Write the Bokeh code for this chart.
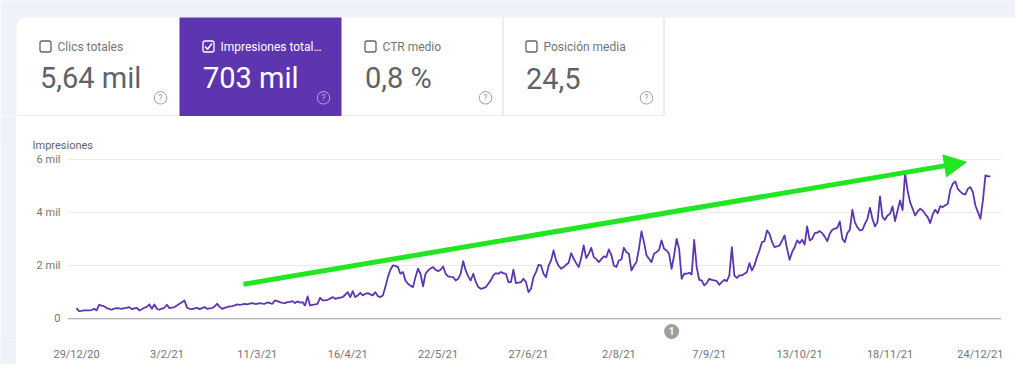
import numpy as np
import pandas as pd
from bokeh.plotting import figure
from bokeh.layouts import column, row
from bokeh.models import Range1d, FixedTicker, Span, Arrow, NormalHead
from bokeh.core.properties import value
from bokeh.embed import file_html
from bokeh.resources import INLINE

# ---------------- data ----------------
card_titles = ["Clics totales", "Impresiones total…", "CTR medio", "Posición media"]
card_values = ["5,64 mil", "703 mil", "0,8 %", "24,5"]
card_selected = [False, True, False, False]

start_date = "2020-12-29"
# daily impressions, 29/12/20 .. 28/12/21
impressions = [
    400, 290, 300, 315, 315, 320, 330, 377, 315, 528, 500, 470, 403, 370,
    340, 380, 403, 390, 377, 400, 410, 440, 365, 390, 415, 315, 360, 415,
    450, 540, 377, 540, 377, 340, 380, 415, 528, 403, 420, 440, 500, 566,
    620, 692, 420, 377, 365, 390, 415, 365, 400, 440, 377, 390, 403, 465,
    566, 450, 377, 410, 440, 465, 480, 503, 540, 528, 540, 566, 540, 570,
    591, 560, 566, 591, 575, 566, 616, 590, 566, 692, 667, 629, 600, 591,
    629, 640, 667, 591, 654, 610, 629, 503, 843, 503, 528, 540, 566, 792,
    692, 692, 717, 760, 818, 755, 780, 800, 818, 906, 1006, 818, 1044, 818,
    881, 981, 881, 943, 969, 920, 881, 1006, 855, 818, 881, 1195, 1572, 1850,
    2013, 2000, 1950, 1698, 1761, 1447, 1321, 1250, 1195, 1572, 1887, 1698, 1220, 1698,
    1824, 1900, 1950, 1849, 1799, 1850, 1975, 1698, 1597, 1580, 1572, 1446, 1509, 1700,
    2176, 1824, 1600, 1446, 1698, 1400, 1195, 1132, 1160, 1195, 1321, 1450, 1635, 1723,
    1698, 1761, 1720, 1698, 1384, 1384, 1849, 1346, 1360, 1384, 1509, 1384, 1006, 1132,
    1572, 1761, 2037, 2012, 1698, 1572, 2000, 2201, 2578, 2201, 2000, 1886, 1950, 2037,
    2113, 2477, 2264, 2100, 1949, 2289, 2767, 2289, 2450, 2679, 2326, 2250, 2138, 2250,
    2352, 2326, 2616, 2415, 2012, 1949, 2200, 2238, 2679, 2515, 2452, 1823, 2000, 2138,
    2641, 3295, 2893, 2400, 2264, 2138, 2452, 2515, 2600, 2955, 2641, 2578, 2452, 1886,
    2389, 3018, 2641, 1509, 1698, 1698, 1735, 1672, 2980, 1949, 1471, 1445, 1257, 1345,
    1508, 1470, 1445, 1420, 1282, 1382, 1471, 1420, 1634, 2703, 1634, 1546, 1634, 1634,
    1700, 1760, 2100, 1823, 2012, 2326, 2578, 2892, 2930, 3332, 3206, 2900, 2703, 2729,
    2766, 2950, 3144, 2640, 2225, 2515, 2700, 2955, 2854, 2980, 2804, 3483, 2955, 3018,
    3232, 3250, 3307, 3232, 3100, 2930, 3206, 3357, 3400, 3433, 3672, 3018, 2892, 3232,
    3358, 4113, 3647, 3450, 3333, 3358, 3584, 3773, 4188, 3773, 3484, 3647, 4616, 3836,
    3735, 3899, 3962, 4239, 3685, 4088, 4465, 4100, 5497, 4842, 4400, 4151, 3899, 4050,
    4151, 4088, 3950, 3836, 3610, 3937, 4113, 3987, 4250, 4213, 4280, 4339, 4868, 5094,
    5182, 4905, 4800, 4717, 4691, 4905, 4968, 4779, 4276, 4025, 3773, 4465, 5408, 5371, 5371,
]

x_tick_dates = ["2020-12-29", "2021-02-03", "2021-03-11", "2021-04-16", "2021-05-22",
                "2021-06-27", "2021-08-02", "2021-09-07", "2021-10-13", "2021-11-18",
                "2021-12-24"]
x_tick_labels = ["29/12/20", "3/2/21", "11/3/21", "16/4/21", "22/5/21", "27/6/21",
                 "2/8/21", "7/9/21", "13/10/21", "18/11/21", "24/12/21"]
y_ticks = [0, 2000, 4000, 6000]
y_tick_labels = ["0", "2 mil", "4 mil", "6 mil"]
y_axis_title = "Impresiones"

annotation_date = "2021-08-23"
annotation_text = "1"

trend_start = ("2021-03-05 12:00", 1300)
trend_end = ("2021-12-18 10:00", 5910)

# ---------------- style ----------------
PAGE_BG = "#eef2fa"
PURPLE = "#5e35b1"
LINE_PURPLE = "#5b36ae"
GREEN = "#22e622"
TEXT_GRAY = "#70757a"
VALUE_GRAY = "#5f6368"
DIVIDER = "#dadce0"
FONT = value("Roboto")


def ms(d):
    return pd.Timestamp(d).value / 1e6


# ---------------- cards strip ----------------
cards = figure(width=1015, height=116, x_range=Range1d(0, 1015), y_range=Range1d(0, 116),
               toolbar_location=None, output_backend="svg", min_border=0,
               x_axis_location=None, y_axis_location=None,
               background_fill_color=PAGE_BG, border_fill_color=PAGE_BG,
               outline_line_color=None)
cards.grid.visible = False


def fy(v):
    return 116 - v


card_left = [16, 179, 341, 502]
card_right = [179, 341, 502, 663]
cx = [l + 23 for l in card_left]

cards.quad(left=16, right=1070, top=fy(17), bottom=fy(170), fill_color="white",
           line_color=None, border_radius=9)
cards.segment(x0=[502.5, 663.5, 16], y0=[fy(17), fy(17), fy(115.5)],
              x1=[502.5, 663.5, 663.5], y1=[fy(115.5), fy(115.5), fy(115.5)],
              line_color=DIVIDER, line_width=1)
for i, sel in enumerate(card_selected):
    if sel:
        cards.quad(left=card_left[i], right=card_right[i], top=fy(17), bottom=fy(115.5),
                   fill_color=PURPLE, line_color=None)

label_colors = ["white" if s else TEXT_GRAY for s in card_selected]
value_colors = ["white" if s else VALUE_GRAY for s in card_selected]
box_colors = ["white" if s else VALUE_GRAY for s in card_selected]
icon_colors = ["#b9a6e0" if s else "#9aa0a6" for s in card_selected]

cards.quad(left=[c + 0.5 for c in cx], right=[c + 11.5 for c in cx],
           top=fy(40.5), bottom=fy(51.5), fill_alpha=0, line_color=box_colors,
           line_width=1.3, border_radius=2)
for i, sel in enumerate(card_selected):
    if sel:
        c = cx[i]
        cards.line(x=[c + 2.5, c + 5, c + 9.5], y=[fy(46), fy(48.7), fy(43)],
                   line_color="white", line_width=1.6)

cards.text(x=[c + 18 for c in cx], y=fy(46.5), text=card_titles, text_font=FONT,
           text_font_size="12px", text_baseline="middle", text_color=label_colors)
cards.text(x=[c + 0.5 for c in cx], y=fy(77.5), text=card_values, text_font=FONT,
           text_font_size="29px", text_baseline="alphabetic", text_color=value_colors)
cards.scatter(x=[c + 121 for c in cx], y=fy(97.3), marker="circle", size=12.5,
              fill_color=None, line_color=icon_colors, line_width=1)
cards.text(x=[c + 121 for c in cx], y=fy(97.5), text=["?"] * 4, text_font=FONT,
           text_font_size="9px", text_align="center", text_baseline="middle",
           text_color=icon_colors)

# ---------------- chart ----------------
spacer = figure(width=16, height=248, toolbar_location=None, output_backend="svg",
                min_border=0, x_axis_location=None, y_axis_location=None,
                background_fill_color=PAGE_BG, border_fill_color=PAGE_BG,
                outline_line_color=None)
spacer.grid.visible = False

t0 = pd.Timestamp(start_date)
dates = pd.date_range(start_date, periods=len(impressions), freq="D")
one_day = pd.Timedelta(days=1)

chart = figure(width=999, height=248, x_axis_type="datetime",
               x_range=Range1d(t0 - 3.6 * one_day, t0 + 368.4 * one_day),
               y_range=Range1d(-820, 6350),
               min_border_left=51, min_border_right=14, min_border_top=34,
               min_border_bottom=24, toolbar_location=None, output_backend="svg",
               background_fill_color="white", border_fill_color="white",
               outline_line_color=None, title=y_axis_title)

chart.title.align = "left"
chart.title.offset = -35
chart.title.text_font = "Roboto"
chart.title.text_font_size = "11px"
chart.title.text_font_style = "normal"
chart.title.text_color = VALUE_GRAY
chart.title.standoff = -2

chart.xgrid.visible = False
chart.ygrid.ticker = FixedTicker(ticks=[t for t in y_ticks if t != 0])
chart.ygrid.grid_line_color = "#e8eaed"

chart.yaxis.ticker = FixedTicker(ticks=y_ticks)
chart.yaxis.major_label_overrides = dict(zip(y_ticks, y_tick_labels))
chart.xaxis.ticker = FixedTicker(ticks=[int(ms(d)) for d in x_tick_dates])
chart.xaxis.major_label_overrides = {int(ms(d)): l for d, l in zip(x_tick_dates, x_tick_labels)}
for ax in (chart.xaxis, chart.yaxis):
    ax.axis_line_color = None
    ax.major_tick_line_color = None
    ax.minor_tick_line_color = None
    ax.major_tick_out = 0
    ax.major_tick_in = 0
    ax.minor_tick_out = 0
    ax.minor_tick_in = 0
    ax.major_label_text_font = "Roboto"
    ax.major_label_text_font_size = "11px"
    ax.major_label_text_color = "#757575"
chart.yaxis.major_label_standoff = 7
chart.xaxis.major_label_standoff = 7

chart.add_layout(Span(location=0, dimension="width", line_color="#9e9e9e", line_width=1))

chart.line(x=dates, y=impressions, line_color=LINE_PURPLE, line_width=1.8,
           line_join="round")

chart.scatter(x=[pd.Timestamp(annotation_date)], y=[-480], marker="circle", size=15,
              fill_color="#9e9e9e", line_color=None)
chart.text(x=[pd.Timestamp(annotation_date)], y=[-480], text=[annotation_text],
           text_font=FONT, text_font_size="10px", text_font_style="bold",
           text_align="center", text_baseline="middle", text_color="white")

chart.add_layout(Arrow(end=NormalHead(size=22, fill_color=GREEN, line_color=GREEN, line_width=1),
                       x_start=ms(trend_start[0]), y_start=trend_start[1],
                       x_end=ms(trend_end[0]), y_end=trend_end[1],
                       line_color=GREEN, line_width=5))

layout = column(cards, row(spacer, chart))

open("out.html", "w").write(file_html(layout, INLINE))
